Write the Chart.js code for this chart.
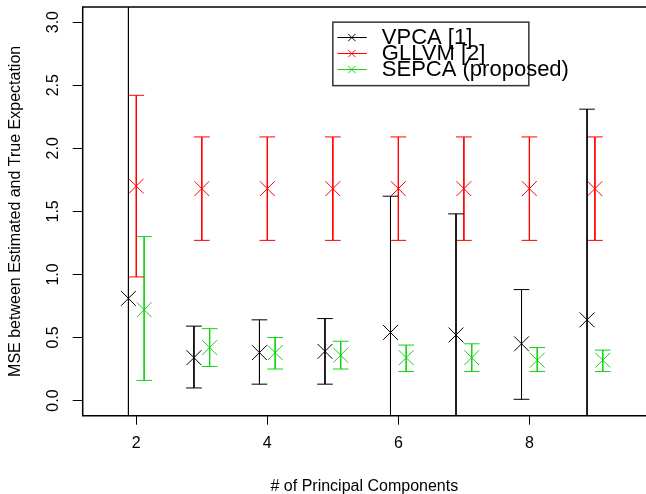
<!DOCTYPE html>
<html>
<head>
<meta charset="utf-8">
<script src="https://cdn.jsdelivr.net/npm/chart.js@4"></script>
<style>
  html, body { margin: 0; padding: 0; background: #fff; }
  #wrap { width: 646px; height: 494px; }
</style>
</head>
<body>
<div id="wrap"><canvas id="chart"></canvas></div>
<script>
// Data
const components = [2, 3, 4, 5, 6, 7, 8, 9];
const seriesNames = ['VPCA [1]', 'GLLVM [2]', 'SEPCA (proposed)'];
const seriesColors = ['#000000', '#ff0000', 'rgb(20, 210, 20)'];

const vpcaMean = [0.81, 0.34, 0.38, 0.39, 0.54, 0.52, 0.45, 0.64];
const vpcaLow  = [-1.79, 0.10, 0.13, 0.13, -0.54, -0.44, 0.01, -1.04];
const vpcaHigh = [3.41, 0.59, 0.64, 0.65, 1.62, 1.48, 0.88, 2.31];

const gllvmMean = [1.70, 1.68, 1.68, 1.68, 1.68, 1.68, 1.68, 1.68];
const gllvmLow  = [0.98, 1.27, 1.27, 1.27, 1.27, 1.27, 1.27, 1.27];
const gllvmHigh = [2.42, 2.09, 2.09, 2.09, 2.09, 2.09, 2.09, 2.09];

const sepcaMean = [0.72, 0.42, 0.38, 0.36, 0.34, 0.34, 0.32, 0.32];
const sepcaLow  = [0.16, 0.27, 0.25, 0.25, 0.23, 0.23, 0.23, 0.23];
const sepcaHigh = [1.30, 0.57, 0.50, 0.47, 0.44, 0.45, 0.42, 0.40];

const xTicks = [2, 4, 6, 8];
const yTicks = [0, 0.5, 1, 1.5, 2, 2.5, 3];
const xTitle = '# of Principal Components';
const yTitle = 'MSE between Estimated and True Expectation';
const legendAt = [5, 3]; // legend top-left corner, in data units (like R legend(x, y))

// Style constants
const dodge = 0.12;   // horizontal shift of the side series
const capHalf = 0.12; // error bar cap half width (x units)
const FONT = 'Liberation Sans, Arial, Helvetica, sans-serif';

// Helpers
function points(mean, shift) {
    return components.map((x, i) => ({x: x + shift, y: mean[i]}));
}

function errorBars(low, high, shift) {
    const out = [];
    components.forEach((c, i) => {
        const x = c + shift;
        out.push({x: x - capHalf, y: high[i]}, {x: x + capHalf, y: high[i]}, {x: x, y: null});
        out.push({x: x, y: high[i]}, {x: x, y: low[i]}, {x: x, y: null});
        out.push({x: x - capHalf, y: low[i]}, {x: x + capHalf, y: low[i]}, {x: x, y: null});
    });
    return out;
}

function barSet(low, high, shift, color) {
    return {
        type: 'line', data: errorBars(low, high, shift), borderColor: color,
        borderWidth: 1, pointRadius: 0, spanGaps: false, showLine: true, tension: 0
    };
}

function markSet(mean, shift, color) {
    return {
        type: 'scatter', data: points(mean, shift), pointStyle: 'crossRot',
        pointRadius: 10.5, borderColor: color, backgroundColor: color, pointBorderWidth: 1
    };
}

function noPad(s) {
    s.paddingTop = 0; s.paddingBottom = 0; s.paddingLeft = 0; s.paddingRight = 0;
}

// Box + custom legend (R style)
const rPlot = {
    id: 'rPlot',
    afterDraw(chart) {
        const {ctx, chartArea: a, scales} = chart;
        ctx.save();
        ctx.strokeStyle = '#000';
        ctx.lineWidth = 1.5;
        ctx.beginPath();
        ctx.moveTo(a.right + 2, a.top);
        ctx.lineTo(a.left, a.top);
        ctx.lineTo(a.left, a.bottom);
        ctx.lineTo(a.right + 2, a.bottom);
        ctx.stroke();

        const lx = scales.x.getPixelForValue(legendAt[0]);
        const ly = scales.y.getPixelForValue(legendAt[1]);
        const boxW = 196, boxH = 63.5, rowH = 16, firstRow = 15.4;
        ctx.fillStyle = '#fff';
        ctx.fillRect(lx, ly, boxW, boxH);
        ctx.strokeStyle = '#333';
        ctx.lineWidth = 1.5;
        ctx.strokeRect(lx, ly, boxW, boxH);

        ctx.font = '22px ' + FONT;
        ctx.textBaseline = 'middle';
        ctx.textAlign = 'left';
        seriesNames.forEach((name, i) => {
            const cy = ly + firstRow + i * rowH;
            ctx.strokeStyle = seriesColors[i];
            ctx.lineWidth = 1;
            ctx.beginPath();
            ctx.moveTo(lx + 4.6, cy);
            ctx.lineTo(lx + 34, cy);
            ctx.stroke();
            Chart.helpers.drawPoint(ctx, {pointStyle: 'crossRot', radius: 5.2, borderWidth: 1}, lx + 19, cy);
            ctx.fillStyle = '#000';
            ctx.fillText(name, lx + 49, cy);
        });
        ctx.restore();
    }
};

// Chart
const config = {
    type: 'scatter',
    data: {
        datasets: [
            barSet(vpcaLow, vpcaHigh, -dodge, seriesColors[0]),
            markSet(vpcaMean, -dodge, seriesColors[0]),
            barSet(gllvmLow, gllvmHigh, 0, seriesColors[1]),
            markSet(gllvmMean, 0, seriesColors[1]),
            barSet(sepcaLow, sepcaHigh, dodge, seriesColors[2]),
            markSet(sepcaMean, dodge, seriesColors[2])
        ]
    },
    options: {
        responsive: false,
        animation: false,
        events: [],
        layout: {autoPadding: false, padding: {top: 7, right: 0, bottom: 0, left: 0}},
        plugins: {legend: {display: false}, tooltip: {enabled: false}},
        scales: {
            x: {
                type: 'linear', min: 1.182, max: 9.78,
                afterBuildTicks(s) { s.ticks = xTicks.map(v => ({value: v})); },
                afterFit(s) { s.height = 78.3; noPad(s); },
                grid: {drawOnChartArea: false, drawTicks: true, tickLength: 9, tickColor: '#000', tickWidth: 1},
                border: {display: false},
                ticks: {color: '#000', padding: 9, font: {family: FONT, size: 16}, callback: v => String(v)},
                title: {display: true, text: xTitle, color: '#000', font: {family: FONT, size: 16}, padding: {top: 0, bottom: -2}}
            },
            y: {
                type: 'linear', min: -0.12, max: 3.12,
                afterBuildTicks(s) { s.ticks = yTicks.map(v => ({value: v})); },
                afterFit(s) { s.width = 82.7; noPad(s); },
                grid: {drawOnChartArea: false, drawTicks: true, tickLength: 10, tickColor: '#000', tickWidth: 1},
                border: {display: false},
                ticks: {color: '#000', padding: 7.5, minRotation: 90, maxRotation: 90, crossAlign: 'center',
                        font: {family: FONT, size: 16}, callback: v => v.toFixed(1)},
                title: {display: true, text: yTitle, color: '#000', font: {family: FONT, size: 16}, padding: {top: 6.4, bottom: 0}}
            }
        }
    },
    plugins: [rPlot]
};

const canvas = document.getElementById('chart');
canvas.width = 646;
canvas.height = 494;
new Chart(canvas, config);
</script>
</body>
</html>
